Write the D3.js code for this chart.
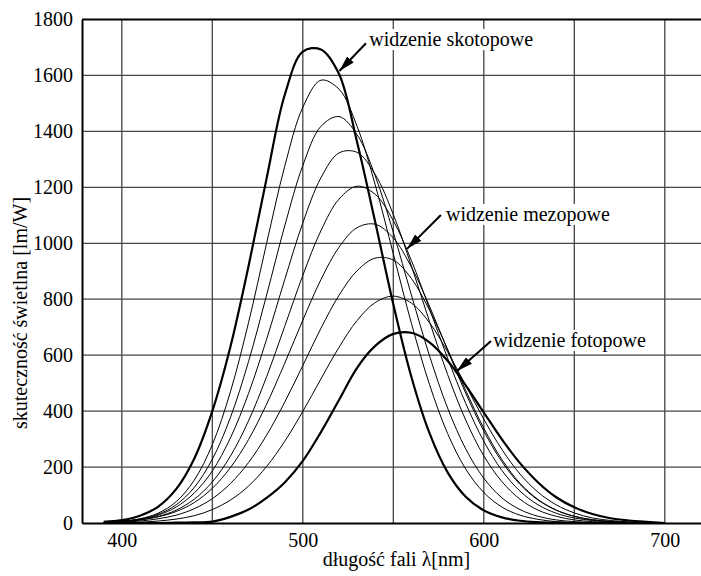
<html>
    <head>
        <script src="https://d3js.org/d3.v7.min.js"></script>
        <style>
            body { margin: 0; background: #fff; }
            text { font-family: "Liberation Serif", "Times New Roman", serif; fill: #000; }
            .grid line { stroke: #444; stroke-width: 1.3; }
        </style>
    </head>
    <body>
        <svg width="701" height="576" id="chart">
            <defs>
                <marker id="head" markerUnits="userSpaceOnUse" markerWidth="16" markerHeight="9" refX="16" refY="4.5" orient="auto">
                    <path d="M 0 0 L 16 4.5 L 0 9 Z" fill="#000" />
                </marker>
            </defs>
        </svg>

        <script>
            // wavelength [nm]
            const wavelengths = [390, 400, 410, 420, 430, 440, 450, 460, 470, 480, 490, 500, 510, 520, 530, 540,
                                 550, 560, 570, 580, 590, 600, 610, 620, 630, 640, 650, 660, 670, 680, 690, 700];

            // luminous efficacy [lm/W]
            const scotopic = [4, 10, 26, 58, 121, 230, 400, 630, 918, 1232, 1530, 1685, 1693, 1605, 1361, 1076,
                              782, 522, 321, 181, 94, 45, 20, 8, 3, 1, 0, 0, 0, 0, 0, 0];
            const mesopic1 = [2, 6, 15, 35, 76, 153, 280, 469, 716, 1000, 1275, 1486, 1583, 1551, 1418, 1209,
                              962, 714, 495, 320, 193, 109, 57, 28, 13, 5, 2, 1, 0, 0, 0, 0];
            const mesopic2 = [2, 5, 14, 31, 65, 127, 228, 377, 577, 815, 1062, 1278, 1418, 1453, 1388, 1241,
                              1039, 815, 598, 411, 265, 160, 90, 48, 24, 11, 5, 2, 1, 0, 0, 0];
            const mesopic3 = [2, 6, 13, 28, 57, 107, 186, 304, 463, 657, 870, 1073, 1234, 1323, 1325, 1246,
                              1103, 919, 720, 531, 368, 240, 148, 85, 46, 24, 11, 5, 2, 1, 0, 0];
            const mesopic4 = [2, 5, 11, 23, 46, 85, 147, 239, 365, 523, 703, 885, 1045, 1158, 1204, 1175,
                              1081, 938, 766, 589, 428, 292, 188, 114, 65, 35, 18, 9, 4, 2, 1, 0];
            const mesopic5 = [2, 5, 11, 22, 41, 73, 124, 198, 298, 425, 571, 725, 870, 986, 1056, 1068,
                              1019, 915, 775, 618, 464, 329, 219, 138, 82, 46, 24, 12, 6, 2, 1, 0];
            const mesopic6 = [2, 3, 7, 15, 28, 51, 87, 141, 216, 314, 432, 563, 696, 814, 902, 947,
                              940, 874, 761, 621, 474, 339, 227, 142, 84, 46, 24, 11, 5, 2, 1, 0];
            const mesopic7 = [1, 1, 3, 7, 14, 26, 48, 82, 132, 202, 292, 399, 515, 628, 724, 788,
                              811, 786, 716, 612, 492, 371, 263, 175, 110, 65, 36, 18, 9, 4, 2, 0];
            const photopic = [0, 0, 0, 0, 1, 2, 5, 22, 48, 90, 145, 222, 325, 440, 555, 633,
                              676, 680, 646, 580, 492, 395, 299, 214, 145, 92, 56, 32, 17, 9, 4, 0];

            const xTicks = [400, 500, 600, 700];
            const xGrid = [400, 450, 500, 550, 600, 650, 700];
            const yTicks = [0, 200, 400, 600, 800, 1000, 1200, 1400, 1600, 1800];

            const noteTexts = ["widzenie skotopowe", "widzenie mezopowe", "widzenie fotopowe"];
            const noteTips = [[520.2, 1616], [557.6, 980], [585.2, 543]];
            const noteTails = [[534.9, 1715], [576.3, 1101], [604, 651]];
            const noteAnchors = [[536.7, 1705], [579.1, 1080], [605.2, 629]];

            const svg = d3.select("#chart");
            const margin = { "top": 19.5, "right": 0, "bottom": 53, "left": 82 };
            const width = 701, height = 576;
            const fontSize = "20px";
            const serif = '"Liberation Serif", "Times New Roman", serif';

            const x = d3.scaleLinear().domain([378, 720]).range([margin.left, width - margin.right]);
            const y = d3.scaleLinear().domain([0, 1800]).range([height - margin.bottom, margin.top]);

            svg.append("clipPath").attr("id", "plot")
                .append("rect")
                .attr("x", x(378)).attr("y", y(1800))
                .attr("width", x(720) - x(378)).attr("height", y(0) - y(1800));

            // gridlines
            const grid = svg.append("g").attr("class", "grid");
            grid.selectAll("line.v").data(xGrid)
                .join("line")
                .attr("class", "v")
                .attr("x1", d => x(d)).attr("x2", d => x(d))
                .attr("y1", y(1800)).attr("y2", y(0));
            grid.selectAll("line.h").data(yTicks.filter(d => d > 0 && d < 1800))
                .join("line")
                .attr("class", "h")
                .attr("x1", x(378)).attr("x2", x(720))
                .attr("y1", d => y(d)).attr("y2", d => y(d));

            // curves
            const series = [
                { name: "skotopowe", values: scotopic, thick: true },
                { name: "m1", values: mesopic1, thick: false },
                { name: "m2", values: mesopic2, thick: false },
                { name: "m3", values: mesopic3, thick: false },
                { name: "m4", values: mesopic4, thick: false },
                { name: "m5", values: mesopic5, thick: false },
                { name: "m6", values: mesopic6, thick: false },
                { name: "m7", values: mesopic7, thick: false },
                { name: "fotopowe", values: photopic, thick: true }
            ];

            const line = d3.line()
                .x((d, i) => x(wavelengths[i]))
                .y(d => y(d))
                .curve(d3.curveCatmullRom.alpha(0.5));

            svg.append("g")
                .attr("clip-path", "url(#plot)")
                .selectAll("path").data(series)
                .join("path")
                .attr("d", d => line(d.values))
                .attr("fill", "none")
                .attr("stroke", "#000")
                .attr("stroke-width", d => d.thick ? 2.2 : 1)
                .attr("stroke-linejoin", "round");

            // annotations
            const notes = svg.append("g").attr("class", "notes");
            noteTexts.forEach(function (t, i) {
                const g = notes.append("g");
                const bg = g.append("rect").attr("fill", "#fff");
                const label = g.append("text")
                    .attr("x", x(noteAnchors[i][0]))
                    .attr("y", y(noteAnchors[i][1]))
                    .style("font-family", serif)
                    .style("font-size", fontSize)
                    .text(t);
                const bb = label.node().getBBox();
                bg.attr("x", bb.x - 2).attr("y", bb.y + 1)
                    .attr("width", bb.width + 4).attr("height", bb.height - 2);
                g.append("line")
                    .attr("x1", x(noteTails[i][0])).attr("y1", y(noteTails[i][1]))
                    .attr("x2", x(noteTips[i][0])).attr("y2", y(noteTips[i][1]))
                    .attr("stroke", "#000")
                    .attr("stroke-width", 2)
                    .attr("marker-end", "url(#head)");
            });

            // axes
            const leftAxis = d3.axisLeft(y).tickValues(yTicks).tickFormat(d3.format("d"))
                .tickSize(0).tickSizeOuter(0).tickPadding(9);
            const yAxisG = svg.append("g")
                .attr("transform", `translate(${x(378)},0)`)
                .call(leftAxis);

            const bottomAxis = d3.axisBottom(x).tickValues(xTicks).tickFormat(d3.format("d"))
                .tickSize(0).tickSizeOuter(0).tickPadding(10);
            const xAxisG = svg.append("g")
                .attr("transform", `translate(0,${y(0)})`)
                .call(bottomAxis);

            [yAxisG, xAxisG].forEach(function (g) {
                g.attr("font-family", null).attr("font-size", null);
                g.select(".domain").attr("stroke", "#000").attr("stroke-width", 2);
                g.selectAll("text")
                    .style("font-family", serif)
                    .style("font-size", fontSize)
                    .attr("fill", "#000");
            });

            // top frame
            svg.append("line")
                .attr("x1", x(378)).attr("x2", x(720))
                .attr("y1", y(1800)).attr("y2", y(1800))
                .attr("stroke", "#000")
                .attr("stroke-width", 2);

            // axis titles
            svg.append("text")
                .attr("x", 396.5)
                .attr("y", 566)
                .attr("text-anchor", "middle")
                .style("font-family", serif)
                .style("font-size", fontSize)
                .text("długość fali λ[nm]");

            svg.append("text")
                .attr("transform", "translate(27,313) rotate(-90)")
                .attr("text-anchor", "middle")
                .style("font-family", serif)
                .style("font-size", fontSize)
                .text("skuteczność świetlna [lm/W]");
        </script>
    </body>
</html>
